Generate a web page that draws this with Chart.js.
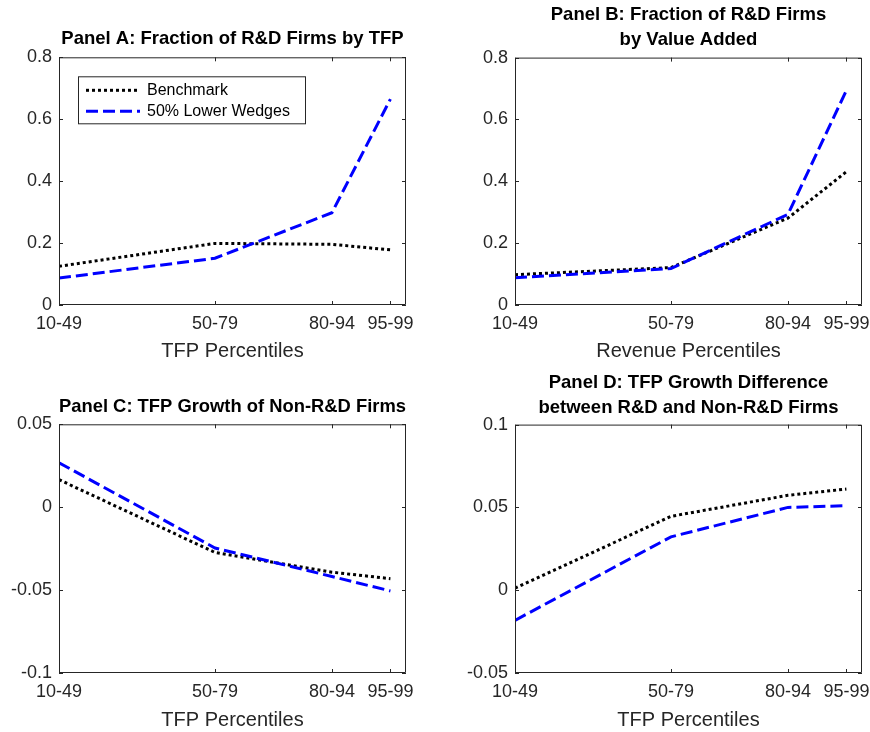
<!DOCTYPE html>
<html>
<head>
<meta charset="utf-8">
<script src="https://cdn.jsdelivr.net/npm/chart.js@4.4.1/dist/chart.umd.min.js"></script>
<style>
  html, body { margin: 0; padding: 0; background: #fff; }
  #wrap { position: relative; width: 870px; height: 732px; overflow: hidden; }
  #wrap canvas { position: absolute; }
</style>
</head>
<body>
<div id="wrap">
  <canvas id="panelA" width="435" height="366" style="left:0;top:0"></canvas>
  <canvas id="panelB" width="435" height="366" style="left:456px;top:0"></canvas>
  <canvas id="panelC" width="435" height="365" style="left:0;top:367px"></canvas>
  <canvas id="panelD" width="435" height="365" style="left:456px;top:367px"></canvas>
</div>
<script>
// --- dados ---
const seriesNames = ['Benchmark', '50% Lower Wedges'];
const xTickValues = [10, 50, 80, 95];
const xTickLabels = ['10-49', '50-79', '80-94', '95-99'];

const benchA = [0.125, 0.199, 0.196, 0.178];
const lowerA = [0.087, 0.151, 0.298, 0.665];
const benchB = [0.098, 0.121, 0.281, 0.431];
const lowerB = [0.088, 0.118, 0.293, 0.694];
const benchC = [0.0166, -0.0273, -0.0392, -0.0431];
const lowerC = [0.0268, -0.0246, -0.0418, -0.0505];
const benchD = [0.0012, 0.0446, 0.0573, 0.0611];
const lowerD = [-0.0182, 0.0322, 0.0500, 0.0510];

const yTicksAB = [0, 0.2, 0.4, 0.6, 0.8];
const yTicksC  = [-0.1, -0.05, 0, 0.05];
const yTicksD  = [-0.05, 0, 0.05, 0.1];

const FONT = "'Liberation Sans', Arial, Helvetica, sans-serif";
const INK  = '#262626';

// caixa estilo MATLAB com ticks para dentro
const boxPlugin = {
  id: 'matlabBox',
  afterDatasetsDraw(chart) {
    const { ctx, chartArea: a, scales: { x, y } } = chart;
    const len = 4;
    ctx.save();
    ctx.strokeStyle = INK;
    ctx.lineWidth = 1;
    ctx.beginPath();
    ctx.rect(a.left + 0.5, a.top + 0.5, a.width - 1, a.height - 1);
    x.ticks.forEach(t => {
      const px = Math.round(x.getPixelForValue(t.value)) + 0.5;
      ctx.moveTo(px, a.bottom); ctx.lineTo(px, a.bottom - len);
      ctx.moveTo(px, a.top);    ctx.lineTo(px, a.top + len);
    });
    y.ticks.forEach(t => {
      const py = Math.round(y.getPixelForValue(t.value)) + 0.5;
      ctx.moveTo(a.left, py);  ctx.lineTo(a.left + len, py);
      ctx.moveTo(a.right, py); ctx.lineTo(a.right - len, py);
    });
    ctx.stroke();
    ctx.restore();
  }
};

// legenda dentro da área do gráfico (só no painel A)
const boxLegend = {
  id: 'boxLegend',
  afterDraw(chart, args, opts) {
    if (!opts.show) return;
    const { ctx, chartArea: a } = chart;
    const bx = a.left + 19, by = a.top + 19, bw = 227, bh = 47;
    ctx.save();
    ctx.fillStyle = '#fff';
    ctx.fillRect(bx, by, bw, bh);
    ctx.strokeStyle = INK;
    ctx.lineWidth = 1;
    ctx.strokeRect(bx + 0.5, by + 0.5, bw, bh);
    ctx.font = '16px ' + FONT;
    ctx.textBaseline = 'middle';
    chart.data.datasets.forEach((ds, i) => {
      const ly = by + 14 + i * 21;
      ctx.beginPath();
      ctx.setLineDash(ds.borderDash);
      ctx.lineWidth = ds.borderWidth;
      ctx.strokeStyle = ds.borderColor;
      ctx.moveTo(bx + 8, ly); ctx.lineTo(bx + 62, ly);
      ctx.stroke();
      ctx.setLineDash([]);
      ctx.fillStyle = '#000';
      ctx.fillText(ds.label, bx + 69, ly);
    });
    ctx.restore();
  }
};

function makePanel(id, title, titlePad, xTitle, bench, lower, yTicks, opt) {
  const toPts = arr => arr.map((v, i) => ({ x: xTickValues[i], y: v }));
  return new Chart(document.getElementById(id), {
    type: 'line',
    data: {
      datasets: [
        {
          label: seriesNames[0], data: toPts(bench),
          borderColor: '#000', borderWidth: 3, borderDash: [3, 3],
          pointRadius: 0, tension: 0, order: 1,
        },
        {
          label: seriesNames[1], data: toPts(lower),
          borderColor: '#0000ff', borderWidth: 3, borderDash: [12, 5],
          pointRadius: 0, tension: 0, order: 0,
        },
      ],
    },
    options: {
      responsive: false,
      animation: false,
      layout: { padding: { left: 0, right: 29, top: 0, bottom: 0 } },
      plugins: {
        legend: { display: false },
        tooltip: { enabled: false },
        title: {
          display: true, text: title, fullSize: false, color: '#000',
          font: { family: FONT, size: 18.5, weight: 'bold', lineHeight: '24.3px' },
          padding: titlePad,
        },
        boxLegend: { show: !!opt.legend },
      },
      scales: {
        x: {
          type: 'linear', min: 10, max: 99,
          grid: { display: false, drawTicks: false },
          border: { display: false },
          afterBuildTicks: s => { s.ticks = xTickValues.map(v => ({ value: v })); },
          afterFit: s => { s.height = opt.xH; },
          ticks: {
            autoSkip: false, maxRotation: 0, padding: 8, color: INK,
            font: { family: FONT, size: 18 },
            callback: v => xTickLabels[xTickValues.indexOf(v)],
          },
          title: {
            display: true, text: xTitle, color: INK,
            font: { family: FONT, size: 20 },
            padding: { top: 0, bottom: opt.xTitlePad },
          },
        },
        y: {
          min: yTicks[0], max: yTicks[yTicks.length - 1],
          grid: { display: false, drawTicks: false },
          border: { display: false },
          afterBuildTicks: s => { s.ticks = yTicks.map(v => ({ value: v })); },
          afterFit: s => { s.width = 59; },
          ticks: {
            padding: 7, color: INK,
            font: { family: FONT, size: 18 },
            callback: v => String(v),
          },
        },
      },
    },
    plugins: [boxPlugin, boxLegend],
  });
}

makePanel('panelA', 'Panel A: Fraction of R&D Firms by TFP', { top: 27, bottom: 6 },
  'TFP Percentiles', benchA, lowerA, yTicksAB, { xH: 61, xTitlePad: 3, legend: true });
makePanel('panelB', ['Panel B: Fraction of R&D Firms', 'by Value Added'], { top: 3, bottom: 6 },
  'Revenue Percentiles', benchB, lowerB, yTicksAB, { xH: 61, xTitlePad: 3 });
makePanel('panelC', 'Panel C: TFP Growth of Non-R&D Firms', { top: 28, bottom: 5 },
  'TFP Percentiles', benchC, lowerC, yTicksC, { xH: 59, xTitlePad: 0 });
makePanel('panelD', ['Panel D: TFP Growth Difference', 'between R&D and Non-R&D Firms'], { top: 4, bottom: 5 },
  'TFP Percentiles', benchD, lowerD, yTicksD, { xH: 59, xTitlePad: 0 });
</script>
</body>
</html>
